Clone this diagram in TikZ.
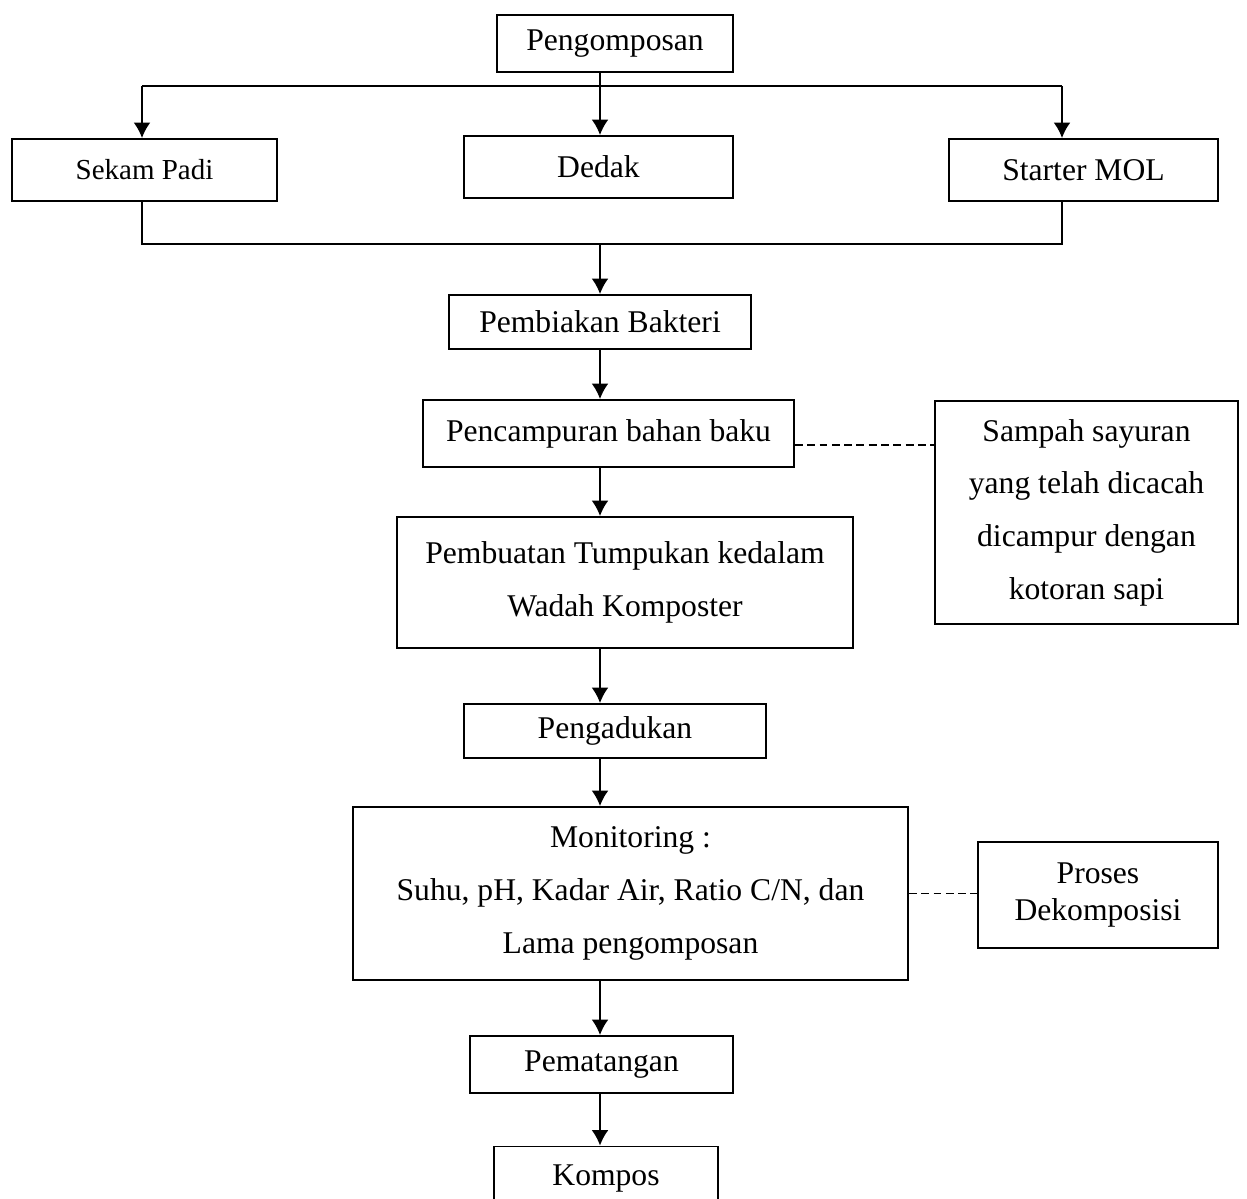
\documentclass[tikz,border=0pt]{standalone}
\usepackage{fontspec}
\setmainfont{Liberation Serif}
\usepackage{tikz}
\usetikzlibrary{arrows.meta}
\usetikzlibrary{positioning}
\tikzset{box/.style = {draw, line width=1.1pt, align=center, inner sep=0,
                       font=\fontsize{18}{30}\selectfont}}
\tikzset{arr/.style = {-{Latex[length=3.1mm, width=3.4mm]}, line width=1.1pt}}
\tikzset{link/.style = {line width=1.1pt, dash pattern=on 4.5pt off 2.5pt}}

\begin{document}
\begin{tikzpicture}[x=0.02cm, y=-0.02cm]
    \useasboundingbox (0, 0) rectangle (1247, 1199);

    \node [box, minimum width=4.72cm, minimum height=1.14cm] (peng) at (615, 43.5) {Pengomposan};

    \node [box, minimum width=5.3cm, minimum height=1.24cm, font=\fontsize{16.5}{20}\selectfont] (sekam) at (144.5, 170) {Sekam Padi};
    \node [box, minimum width=5.38cm, minimum height=1.24cm] (dedak) at (598.5, 167) {Dedak};
    \node [box, minimum width=5.38cm, minimum height=1.24cm] (starter) at (1083.5, 170) {Starter MOL};

    \node [box, minimum width=6.04cm, minimum height=1.08cm] (bakteri) at (600, 322) {Pembiakan Bakteri};
    \node [box, minimum width=7.42cm, minimum height=1.34cm] (campur) at (608.5, 433.5) {Pencampuran bahan baku};
    \node [box, minimum width=6.06cm, minimum height=4.46cm] (sampah) at (1086.5, 512.5)
      {Sampah sayuran\\yang telah dicacah\\dicampur dengan\\kotoran sapi};
    \node [box, minimum width=9.12cm, minimum height=2.62cm] (tumpuk) at (625, 582.5)
      {Pembuatan Tumpukan kedalam\\Wadah Komposter};
    \node [box, minimum width=6.04cm, minimum height=1.08cm] (aduk) at (615, 731) {Pengadukan};
    \node [box, minimum width=11.1cm, minimum height=3.46cm] (monitor) at (630.5, 893.5)
      {Monitoring :\\Suhu, pH, Kadar Air, Ratio C/N, dan\\Lama pengomposan};
    \node [box, minimum width=4.8cm, minimum height=2.12cm, font=\fontsize{18}{21.6}\selectfont] (dekomp) at (1098, 895)
      {Proses\\Dekomposisi};
    \node [box, minimum width=5.26cm, minimum height=1.14cm] (matang) at (601.5, 1064.5) {Pematangan};
    \node [box, minimum width=4.48cm, minimum height=1.3cm] (kompos) at (606, 1179) {Kompos};

    % split to the three inputs
    \coordinate (tl) at (142, 86);
    \coordinate (tr) at (1062, 86);
    \coordinate (mid) at (600, 86);
    \draw [line width=1.1pt] (tl) -- (tr);
    \draw [arr] (tl) -- (tl |- sekam.north);
    \draw [arr] (tr) -- (tr |- starter.north);
    \draw [arr] (mid |- peng.south) -- (mid |- dedak.north);

    % join below the inputs
    \coordinate (bl) at (142, 244);
    \coordinate (br) at (1062, 244);
    \coordinate (bm) at (600, 244);
    \draw [line width=1.1pt] (bl |- sekam.south) -- (bl) -- (br) -- (br |- starter.south);
    \draw [arr] (bm) -- (bm |- bakteri.north);

    % main column
    \draw [arr] (bm |- bakteri.south) -- (bm |- campur.north);
    \draw [arr] (bm |- campur.south) -- (bm |- tumpuk.north);
    \draw [arr] (bm |- tumpuk.south) -- (bm |- aduk.north);
    \draw [arr] (bm |- aduk.south) -- (bm |- monitor.north);
    \draw [arr] (bm |- monitor.south) -- (bm |- matang.north);
    \draw [arr] (bm |- matang.south) -- (bm |- kompos.north);

    % side notes
    \coordinate (side) at (800, 445);
    \draw [link] (side -| campur.east) -- (side -| sampah.west);
    \draw [link] (monitor.east) -- (monitor.east -| dekomp.west);
\end{tikzpicture}
\end{document}
